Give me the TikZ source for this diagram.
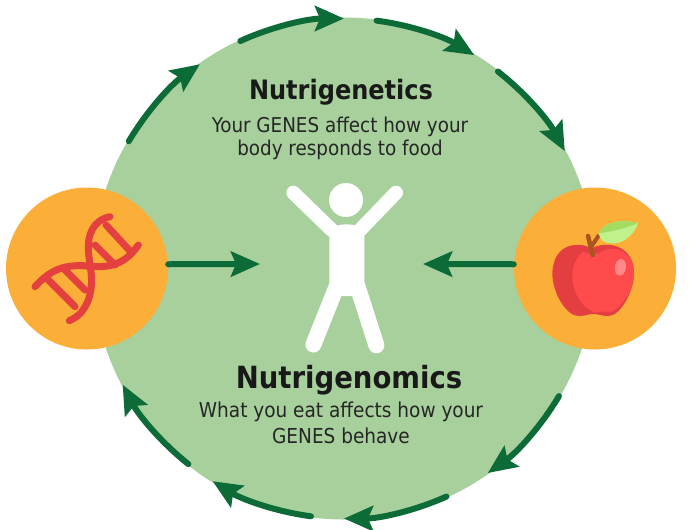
\documentclass[tikz,border=0pt]{standalone}
\usepackage{fontspec}
\setmainfont{DejaVu Sans Condensed}
\usetikzlibrary{arrows.meta}
\definecolor{ringgreen}{HTML}{A7D09C}
\definecolor{darkgreen}{HTML}{0C6B37}
\definecolor{badge}{HTML}{FBAF38}
\definecolor{dnared}{HTML}{E4403F}
\definecolor{applered}{HTML}{FF4B4B}
\definecolor{appledark}{HTML}{E33F40}
\definecolor{stem}{HTML}{A8551E}
\definecolor{leaftop}{HTML}{A2DC62}
\definecolor{leaflow}{HTML}{BFF18C}
\tikzset{>={Stealth[length=.58cm,width=.5cm,inset=.1cm]}}
\tikzset{flow/.style={->,darkgreen,line width=.12cm,line cap=round},
  badgedisc/.style={circle,fill=badge,minimum size=3.24cm,inner sep=0},
  headline/.style={font=\bfseries\fontsize{#1}{#1}\selectfont,text=black!90},
  subline/.style 2 args={font=\fontsize{#1}{#2}\selectfont,align=center,text=black!85}}

\begin{document}
\begin{tikzpicture}
  \useasboundingbox (-6.88,-5.21) rectangle (6.9,5.37);
  \node[circle,fill=ringgreen,minimum size=10.04cm,inner sep=0] (ring) at (0,0) {};
  \node[badgedisc] (dna) at (-5.14,0) {};
  \node[badgedisc] (apple) at (5.02,0) {};
  % ring arrows
  \foreach \a/\b in {149.4/125.2,114.5/90,82.5/58.6,52/28,-30.7/-54.9,-65.8/-90,-97.6/-121.7,-128.5/-152.3}
    \draw[flow] (\a:5) arc (\a:\b:5);
  \coordinate (dnatip) at (-1.68,.09);
  \coordinate (appletip) at (1.58,.09);
  \draw[flow] (dna.3) -- (dnatip);
  \draw[flow] (apple.177) -- (appletip);
  % person
  \fill[white] (.04,1.37) circle (.34);
  \draw[white,line width=.28cm,line cap=round] (-1.014,1.516) -- (-.246,.77);
  \draw[white,line width=.28cm,line cap=round] (1.04,1.516) -- (.32,.77);
  \draw[white,line width=.32cm,line cap=round] (-.612,-1.52) -- (-.146,-.356);
  \draw[white,line width=.32cm,line cap=round] (.648,-1.536) -- (.254,-.31);
  \fill[white] (-.294,-.3) -- (-.294,.75) .. controls (-.2,.93) and (.3,.93) .. (.406,.75) -- (.406,-.3) -- (.166,-.55) -- (-.046,-.55) -- cycle;
  % dna
  \begin{scope}[shift={(-6.88,1.97)},x=.006667cm,y=-.006667cm,draw=dnared,line width=.14cm,line cap=round]
    \draw (105,350) .. controls (150,300) and (190,285) .. (250,287) .. controls (320,295) and (370,290) .. (415,225);
    \draw (330,140) .. controls (280,150) and (262,195) .. (265,240) .. controls (268,290) and (285,330) .. (265,390) .. controls (250,425) and (235,440) .. (208,452);
    \draw (318,165) -- (392,245);
    \draw (285,225) -- (345,285);
    \draw (140,325) -- (225,410);
    \draw (195,300) -- (255,360);
  \end{scope}
  % apple
  \begin{scope}[shift={(1.52,1.97)},x=.006667cm,y=-.006667cm]
    \fill[appledark] (515,235) .. controls (480,215) and (400,215) .. (397,310) .. controls (397,370) and (440,440) .. (478,438) .. controls (495,438) and (505,432) .. (520,432) .. controls (535,432) and (545,438) .. (565,438) .. controls (600,438) and (642,365) .. (642,310) .. controls (642,225) and (560,210) .. (515,235) -- cycle;
    \fill[applered] (490,245) .. controls (465,265) and (455,295) .. (457,325) .. controls (460,375) and (490,415) .. (525,428) .. controls (545,420) and (555,428) .. (575,425) .. controls (605,410) and (642,360) .. (642,310) .. controls (642,235) and (570,225) .. (545,245) .. controls (525,255) and (510,255) .. cycle;
    \fill[white,opacity=.35,rotate around={-8:(601,292)}] (601,292) ellipse (17 and 25);
    \draw[stem,line width=.09cm,line cap=round] (504,198) -- (518,255);
    \draw[stem,line width=.08cm,line cap=round] (535,198) -- (515,228);
    \fill[leaflow] (535,190) .. controls (555,150) and (610,150) .. (655,158) .. controls (640,200) and (600,230) .. (560,218) .. controls (545,212) .. cycle;
    \fill[leaftop] (535,190) .. controls (555,150) and (610,150) .. (655,158) .. controls (620,175) and (570,185) .. cycle;
  \end{scope}
  % texts
  \node[headline=15.2] (genetics) at (-.06,3.52) {Nutrigenetics};
  \node[subline={11.6}{13.2}] (geneticstext) at (-.08,2.6) {Your GENES affect how your\\body responds to food};
  \node[headline=17.4] (genomics) at (.1,-2.24) {Nutrigenomics};
  \node[subline={11.7}{14.8}] (genomicstext) at (-.06,-3.09) {What you eat affects how your\\GENES behave};
\end{tikzpicture}
\end{document}
